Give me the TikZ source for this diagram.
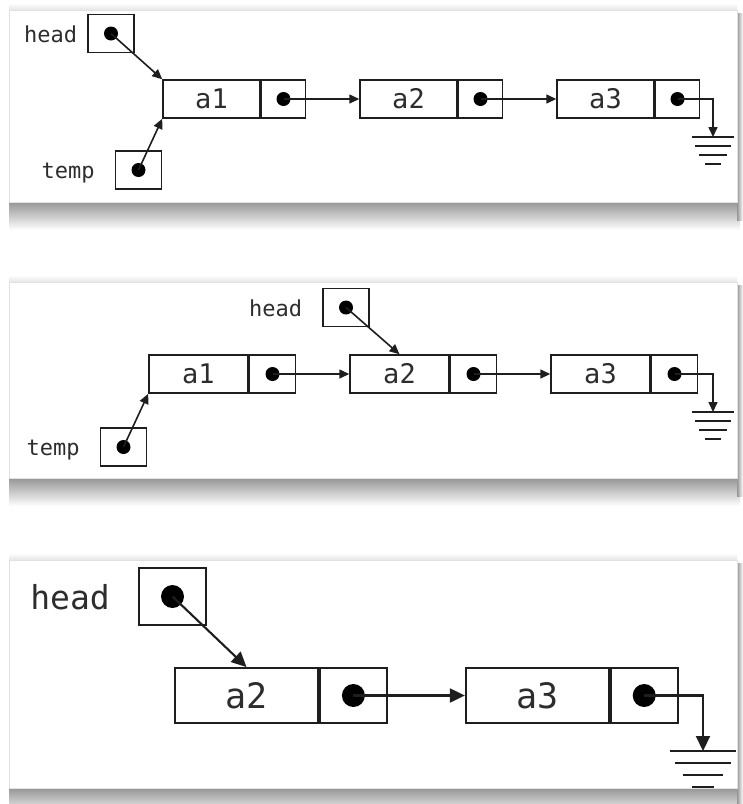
\documentclass[tikz,border=0pt]{standalone}
\usepackage{fontspec}
\setmonofont{DejaVu Sans Mono}
\usetikzlibrary{
  arrows.meta,
  positioning,
  calc
}
\definecolor{linecolor}{RGB}{30, 30, 30}
\definecolor{labelcolor}{RGB}{45, 45, 45}
\definecolor{shadowcolor}{RGB}{150, 150, 150}
\definecolor{framecolor}{RGB}{225, 225, 225}
\tikzset{
datacell/.style={
  draw=linecolor,
  line width=1.5pt,
  inner sep=0pt,
  minimum width=97pt,
  minimum height=38pt,
  font=\ttfamily\fontsize{27}{27}\selectfont,
  text=labelcolor
},
ptrcell/.style={
  draw=linecolor,
  line width=1.5pt,
  inner sep=0pt,
  minimum width=44pt,
  minimum height=38pt
},
varbox/.style={
  draw=linecolor,
  line width=1.5pt,
  inner sep=0pt,
  minimum width=46pt,
  minimum height=38pt
},
varlabel/.style={
  inner sep=0pt,
  text height=17pt,
  text depth=0pt,
  font=\ttfamily\fontsize{22}{22}\selectfont,
  text=labelcolor
},
ptrdot/.style={
  circle,
  fill=black,
  inner sep=0pt,
  minimum size=14pt
},
link/.style={
  -{Triangle[length=10pt,width=9pt]},
  line width=1.6pt,
  draw=linecolor
},
groundline/.style={
  line width=1.6pt,
  draw=linecolor
},
panel/.style={
  fill=white,
  draw=framecolor,
  line width=0.6pt
}
}

\begin{document}
\begin{tikzpicture}[x=1pt, y=-1pt]
  \useasboundingbox[fill=white] (0,0) rectangle (743,804);

  % Panels with soft shadows
  \foreach \top/\bot in {10/202, 282/478, 560/788} {
    \shade[top color=white, bottom color=black!10] (9,\top-7) rectangle (737,\top);
    \shade[top color=shadowcolor, bottom color=white] (9,\bot) rectangle (740,\bot+28);
    \shade[left color=shadowcolor, right color=white] (737,\top+3) rectangle (743,\bot+18);
    \draw[panel] (9,\top) rectangle (737,\bot);
  }

  % Panel 1: head and temp on a1
  \node[datacell] (p1a1) at (211.5,99) {a1};
  \node[ptrcell, right=0pt of p1a1] (p1a1p) {};
  \node[datacell, right=53pt of p1a1p] (p1a2) {a2};
  \node[ptrcell, right=0pt of p1a2] (p1a2p) {};
  \node[datacell, right=53pt of p1a2p] (p1a3) {a3};
  \node[ptrcell, right=0pt of p1a3] (p1a3p) {};
  \node[ptrdot] (p1a1d) at (p1a1p) {};
  \node[ptrdot] (p1a2d) at (p1a2p) {};
  \node[ptrdot] (p1a3d) at (p1a3p) {};

  \node[varbox] (p1head) at (111,33.5) {};
  \node[ptrdot] (p1headd) at (p1head) {};
  \node[varlabel, left=10pt of p1head] (p1headl) {head};
  \node[varbox] (p1temp) at (138.5,170) {};
  \node[ptrdot] (p1tempd) at (p1temp) {};
  \node[varlabel, left=20pt of p1temp] (p1templ) {temp};

  \coordinate (p1gnd) at (713,137);

  \draw[link] (p1headd.center) -- (p1a1.north west);
  \draw[link] (p1tempd.center) -- (p1a1.south west);
  \draw[link] (p1a1d.center) -- (p1a2.west);
  \draw[link] (p1a2d.center) -- (p1a3.west);
  \draw[link] (p1a3d.center) -| (p1gnd);
  \foreach \i/\w in {0/21, 1/18, 2/14, 3/8}
    \draw[groundline] ([yshift={-9pt*\i}]p1gnd) ++(-\w,0) -- ++(2*\w,0);

  % Panel 2: head moved to a2
  \begin{scope}[datacell/.append style={minimum width=99pt},
                ptrcell/.append style={minimum width=46pt}]
    \node[datacell] (p2a1) at (198.5,374) {a1};
    \node[ptrcell, right=0pt of p2a1] (p2a1p) {};
    \node[datacell, right=53pt of p2a1p] (p2a2) {a2};
    \node[ptrcell, right=0pt of p2a2] (p2a2p) {};
    \node[datacell, right=53pt of p2a2p] (p2a3) {a3};
    \node[ptrcell, right=0pt of p2a3] (p2a3p) {};
  \end{scope}
  \node[ptrdot] (p2a1d) at (p2a1p) {};
  \node[ptrdot] (p2a2d) at (p2a2p) {};
  \node[ptrdot] (p2a3d) at (p2a3p) {};

  \node[varbox] (p2head) at (346,307.5) {};
  \node[ptrdot] (p2headd) at (p2head) {};
  \node[varlabel, left=20pt of p2head] (p2headl) {head};
  \node[varbox] (p2temp) at (123.5,447) {};
  \node[ptrdot] (p2tempd) at (p2temp) {};
  \node[varlabel, left=20pt of p2temp] (p2templ) {temp};

  \coordinate (p2gnd) at (713,412);

  \draw[link] (p2headd.center) -- (p2a2.north);
  \draw[link] (p2tempd.center) -- (p2a1.south west);
  \draw[link] (p2a1d.center) -- (p2a2.west);
  \draw[link] (p2a2d.center) -- (p2a3.west);
  \draw[link] (p2a3d.center) -| (p2gnd);
  \foreach \i/\w in {0/21, 1/18, 2/14, 3/8}
    \draw[groundline] ([yshift={-9pt*\i}]p2gnd) ++(-\w,0) -- ++(2*\w,0);

  % Panel 3: a1 removed, larger scale
  \begin{scope}[datacell/.append style={minimum width=143pt, minimum height=55pt,
                  line width=1.9pt, font=\ttfamily\fontsize{35}{35}\selectfont},
                ptrcell/.append style={minimum width=67pt, minimum height=55pt, line width=1.9pt},
                varbox/.append style={minimum width=67pt, minimum height=57pt, line width=1.9pt},
                varlabel/.append style={text height=26pt, font=\ttfamily\fontsize{33}{33}\selectfont},
                ptrdot/.append style={minimum size=23pt},
                link/.style={-{Triangle[length=15pt,width=14pt]}, line width=2.1pt, draw=linecolor},
                groundline/.append style={line width=2.1pt}]
    \node[datacell] (p3a2) at (246.5,695.5) {a2};
    \node[ptrcell, right=0pt of p3a2] (p3a2p) {};
    \node[datacell, right=77pt of p3a2p] (p3a3) {a3};
    \node[ptrcell, right=0pt of p3a3] (p3a3p) {};
    \node[ptrdot] (p3a2d) at (p3a2p) {};
    \node[ptrdot] (p3a3d) at (p3a3p) {};

    \node[varbox] (p3head) at (172.5,596.5) {};
    \node[ptrdot] (p3headd) at (p3head) {};
    \node[varlabel, left=28pt of p3head] (p3headl) {head};

    \coordinate (p3gnd) at (703,751);

    \draw[link] (p3headd.center) -- (p3a2.north);
    \draw[link] (p3a2d.center) -- (p3a3.west);
    \draw[link] (p3a3d.center) -| (p3gnd);
    \foreach \i/\w in {0/33, 1/28, 2/20, 3/11}
      \draw[groundline] ([yshift={-12pt*\i}]p3gnd) ++(-\w,0) -- ++(2*\w,0);
  \end{scope}
\end{tikzpicture}
\end{document}
